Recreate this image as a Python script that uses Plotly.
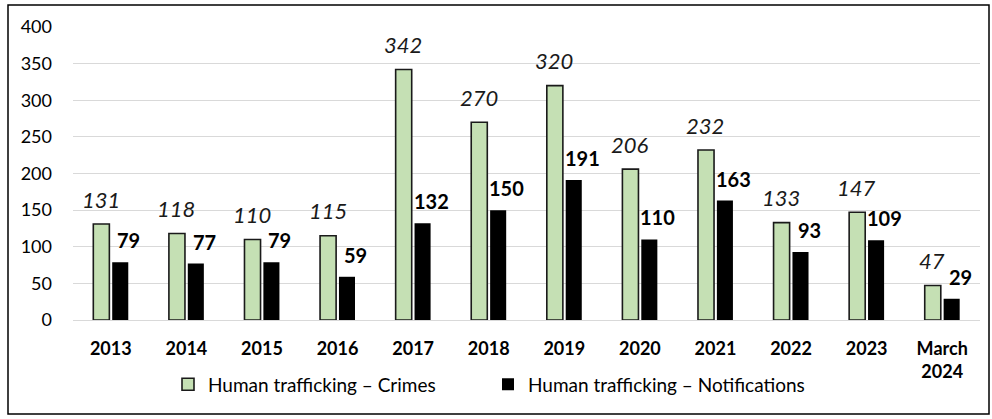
import plotly.graph_objects as go

categories = ["2013", "2014", "2015", "2016", "2017", "2018", "2019", "2020",
              "2021", "2022", "2023", "March<br>2024"]
crimes = [131, 118, 110, 115, 342, 270, 320, 206, 232, 133, 147, 47]
notifications = [79, 77, 79, 59, 132, 150, 191, 110, 163, 93, 109, 29]
series_names = ["Human trafficking – Crimes", "Human trafficking – Notifications"]

FONT = "Lato"

fig = go.Figure()
fig.add_trace(go.Bar(
    x=categories, y=crimes, name=series_names[0],
    marker=dict(color="#c5e0b4", line=dict(color="#1a1a1a", width=1.6)),
))
fig.add_trace(go.Bar(
    x=categories, y=notifications, name=series_names[1],
    marker=dict(color="#000000", line=dict(color="#000000", width=0)),
))

for i, v in enumerate(crimes):
    fig.add_annotation(x=i, y=v, xref="x", yref="y", text=f"<i>{v}</i>",
                       showarrow=False, yanchor="middle", yshift=25, xshift=-10,
                       font=dict(family=FONT, size=22, color="#1a1a1a"))
for i, v in enumerate(notifications):
    fig.add_annotation(x=i, y=v, xref="x", yref="y", text=f"<b>{v}</b>",
                       showarrow=False, yanchor="middle", yshift=22, xshift=18,
                       font=dict(family=FONT, size=20, color="#000000"))

# outer frame
fig.add_shape(type="rect", xref="paper", yref="paper",
              x0=(8 - 73) / 907, x1=(989 - 73) / 907,
              y0=(320 - 414) / 293, y1=(320 - 5) / 293,
              line=dict(color="#000000", width=1.5), fillcolor="rgba(0,0,0,0)")

fig.update_layout(
    width=992, height=419,
    margin=dict(l=73, r=12, t=27, b=99),
    paper_bgcolor="white", plot_bgcolor="white",
    barmode="group", bargap=0.5, bargroupgap=0.15,
    font=dict(family=FONT, size=16, color="#000000"),
    showlegend=True,
    legend=dict(orientation="h", x=(168 - 73) / 907, xanchor="left", y=-0.22, yanchor="middle",
                font=dict(family=FONT, size=19), entrywidth=275, entrywidthmode="pixels",
                bgcolor="rgba(0,0,0,0)", tracegroupgap=0),
)
fig.update_yaxes(range=[0, 400], dtick=50, showgrid=True, gridcolor="#d9d9d9",
                 gridwidth=1.2, zeroline=True, zerolinecolor="#d9d9d9", zerolinewidth=1.2,
                 showline=False, ticks="", ticklabelstandoff=20,
                 tickfont=dict(family=FONT, size=18, color="#000000"))
fig.update_xaxes(type="category", range=[-0.5, len(categories) - 0.5],
                 showgrid=False, showline=True, linecolor="#d9d9d9",
                 linewidth=1.2, ticks="", ticklabelstandoff=12,
                 tickfont=dict(family=FONT, size=18, color="#000000"),
                 tickprefix="<b>", ticksuffix="</b>")

fig.write_html("out.html", config={"displayModeBar": False},
               post_script="document.body.style.margin='0';")
